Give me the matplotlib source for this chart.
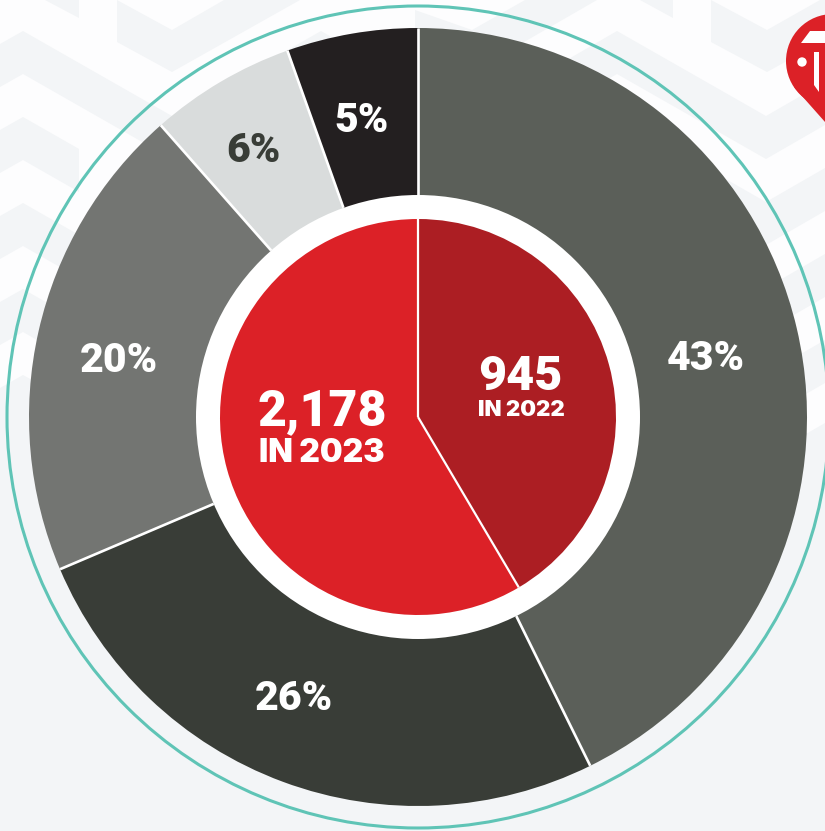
import matplotlib
matplotlib.use('Agg')
import matplotlib.pyplot as plt
from matplotlib.patches import Circle, Polygon
import numpy as np

# datos
outer_values = [42.7, 25.9, 19.9, 6.05, 5.45]
outer_labels = ['43%', '26%', '20%', '6%', '5%']
outer_colors = ['#5b5f59', '#393d37', '#737572', '#d9dcdc', '#231f20']
inner_values = [41.5, 58.5]
inner_colors = ['#ac1e23', '#dc2127']

W, H = 825, 831
CX, CY = 418, H - 417
R_OUT, R_HOLE, R_IN, R_TEAL = 389, 222, 198, 411
BG = '#f3f5f7'


def px(points):
    # pasar de coordenadas de imagen (y hacia abajo) al eje
    return [(x, H - y) for x, y in points]


def zigzag(top, x0=0, x1=W, height=43):
    # banda en zigzag del fondo, recortada entre x0 y x1
    xs = np.array([0, 23, 172, 321, 470, 617, 766, W])
    ys = np.array([13, 0, 85, 0, 85, 0, 85, 51]) + top
    keep = (xs > x0) & (xs < x1)
    vx = np.r_[x0, xs[keep], x1]
    vy = np.interp(vx, xs, ys)
    upper = list(zip(vx, vy))
    lower = list(zip(vx[::-1], vy[::-1] + height))
    return upper + lower


def reset_axes():
    ax.set_xlim(0, W)
    ax.set_ylim(0, H)
    ax.set_aspect('auto')
    ax.axis('off')


fig = plt.figure(figsize=(W / 100, H / 100), dpi=100, facecolor=BG)
ax = fig.add_axes([0, 0, 1, 1])
reset_axes()

# fondo: zona blanca y chevrones claros
ax.add_patch(Polygon(px([(0, 0), (W, 0), (W, 423), (700, 495), (418, 417), (100, 417), (23, 375), (0, 388)]),
                     fc='#fdfdfe', ec='none', zorder=0))
bands = [
    [(45, 0), (79, 18), (79, 0)],
    [(117, 0), (172, 30), (224, 0), (300, 0), (172, 72), (117, 42)],
    [(415, 10), (472, 30), (525, 0), (597, 0), (472, 72), (415, 42)],
    [(640, 0), (673, 18), (673, 0)],
    [(711, 0), (767, 30), (820, 0), (W, 0), (W, 40), (767, 72), (711, 42)],
    zigzag(31),
    zigzag(117, 0, 79),
    zigzag(117, 600, W),
    zigzag(203),
    zigzag(289),
]
for b in bands:
    pts = [(float(x), float(y)) for x, y in b]
    ax.add_patch(Polygon(px(pts), fc=BG, ec='none', zorder=0.5))

# anillo exterior
ax.add_patch(Circle((CX, CY), R_TEAL, fc='none', ec='#5fc4b6', lw=2.2, zorder=1))

# dona exterior
wedges, _ = ax.pie(outer_values, colors=outer_colors, startangle=90, counterclock=False,
                   center=(CX, CY), radius=R_OUT, frame=True, wedgeprops=dict(linewidth=0))
for w in wedges:
    w.set_zorder(2)
    t = np.deg2rad(w.theta1)
    ax.plot([CX + R_HOLE * np.cos(t), CX + R_OUT * np.cos(t)],
            [CY + R_HOLE * np.sin(t), CY + R_OUT * np.sin(t)],
            color='white', lw=1.9, solid_capstyle='butt', zorder=3)
reset_axes()

ax.add_patch(Circle((CX, CY), R_HOLE, fc='white', ec='none', zorder=4))

# circulo interior
in_wedges, _ = ax.pie(inner_values, colors=inner_colors, startangle=90, counterclock=False,
                      center=(CX, CY), radius=R_IN, frame=True, wedgeprops=dict(linewidth=0))
for w in in_wedges:
    w.set_zorder(5)
    t = np.deg2rad(w.theta1)
    ax.plot([CX, CX + R_IN * np.cos(t)], [CY, CY + R_IN * np.sin(t)],
            color='white', lw=1.6, solid_capstyle='butt', zorder=6)
reset_axes()

# textos
font = dict(family='Roboto', weight='black', ha='center', va='center', zorder=7)
wide = dict(family='Inter', weight='black', ha='center', va='center', zorder=7)
label_xy = [(706, 359), (294, 699), (119, 360), (253, 151), (361, 120)]
label_colors = ['white', 'white', 'white', '#393d37', 'white']
for lab, (x, y), c in zip(outer_labels, label_xy, label_colors):
    ax.text(x, H - y, lab, color=c, fontsize=29.5, **font)

ax.text(520, H - 377, '945', color='white', fontsize=35, **font)
ax.text(521, H - 410, 'IN 2022', color='white', fontsize=16, **wide)
ax.text(322, H - 412, '2,178', color='white', fontsize=36, **font)
ax.text(322, H - 454, 'IN 2023', color='white', fontsize=23, **wide)

# logo (pin rojo)
RED = '#dc2127'
ax.add_patch(Circle((833, H - 61), 47, fc=RED, ec='none', zorder=8))
ax.add_patch(Polygon(px([(794, 87), (833, 131), (W + 20, 100)]), fc=RED, ec='none', zorder=8))
ax.add_patch(Polygon(px([(801, 43), (810, 31), (W, 31), (W, 43)]), fc='white', ec='none', zorder=9))
ax.add_patch(Polygon(px([(814, 52), (819, 52), (819, 92), (814, 85)]), fc='white', ec='none', zorder=9))
ax.add_patch(Circle((802, H - 62), 4.7, fc='white', ec='none', zorder=9))

fig.savefig('out.png', dpi=100, facecolor=BG)
plt.close(fig)
